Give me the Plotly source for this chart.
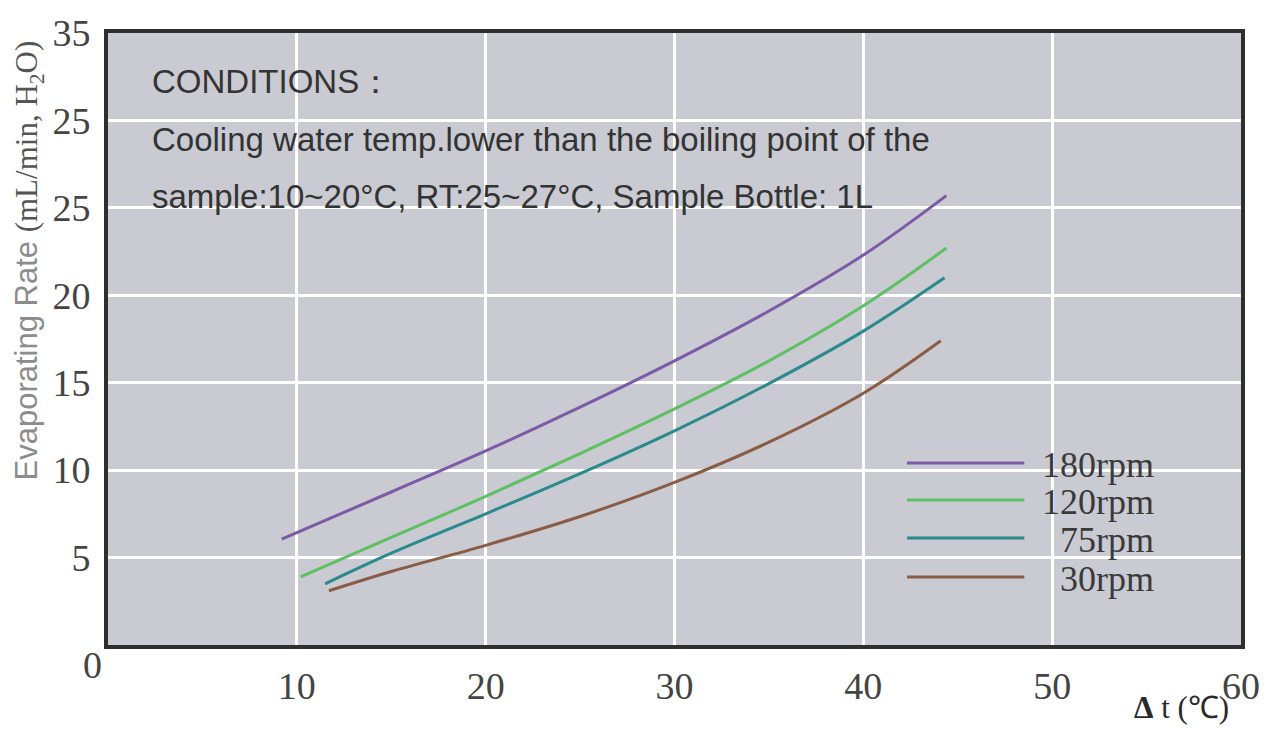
import plotly.graph_objects as go

# ---- data ----
x_180 = [9.2, 15, 20, 25, 30, 35, 40, 44.4]
y_180 = [6.05, 8.75, 11.1, 13.6, 16.25, 19.1, 22.3, 25.7]
x_120 = [10.2, 15, 20, 25, 30, 35, 40, 44.4]
y_120 = [3.9, 6.15, 8.5, 10.95, 13.5, 16.25, 19.4, 22.7]
x_75 = [11.5, 15, 20, 25, 30, 35, 40, 44.3]
y_75 = [3.5, 5.25, 7.5, 9.8, 12.25, 14.95, 17.95, 21.0]
x_30 = [11.7, 15, 20, 25, 30, 35, 40, 44.1]
y_30 = [3.1, 4.2, 5.7, 7.35, 9.3, 11.6, 14.4, 17.4]

series_names = ["180rpm", "120rpm", "75rpm", "30rpm"]
series_colors = ["#7b5aa6", "#5fbf63", "#2b8a8c", "#8a5c44"]

x_tickvals = [10, 20, 30, 40, 50, 60]
x_ticktext = ["10", "20", "30", "40", "50", "60"]
y_tickvals = [5, 10, 15, 20, 25, 30, 35]
y_ticktext = ["5", "10", "15", "20", "25", "25", "35"]

conditions = [
    "CONDITIONS\uff1a",
    "Cooling water temp.lower than the boiling point of the",
    "sample:10~20°C, RT:25~27°C, Sample Bottle: 1L",
]

SERIF = "Liberation Serif, Times New Roman, serif"
SANS = "Liberation Sans, Arial, sans-serif"

fig = go.Figure()
for xs, ys, name, col in zip([x_180, x_120, x_75, x_30],
                             [y_180, y_120, y_75, y_30],
                             series_names, series_colors):
    fig.add_trace(go.Scatter(x=xs, y=ys, mode="lines", name=name,
                             line=dict(color=col, width=3, shape="spline", smoothing=1.0),
                             showlegend=False, hoverinfo="skip"))

W, H = 1272, 729
ml, mr, mt, mb = 108, 24, 33, 84
pw, ph = W - ml - mr, H - mt - mb

def px(xp):
    return (xp - ml) / pw

def py(yp):
    return (H - mb - yp) / ph

annotations = []
# conditions text
for txt, yc in zip(conditions, [81, 139, 196]):
    annotations.append(dict(x=px(150), y=py(yc), xref="paper", yref="paper",
                            text=txt, showarrow=False, xanchor="left", yanchor="middle",
                            font=dict(family=SANS, size=33, color="#333333")))

# legend (manual, long line samples)
shapes = []
leg_y = [463, 500, 538, 577]
for name, col, yl in zip(series_names, series_colors, leg_y):
    shapes.append(dict(type="line", xref="paper", yref="paper",
                       x0=px(912), x1=px(1030), y0=py(yl), y1=py(yl),
                       line=dict(color=col, width=3)))
    annotations.append(dict(x=px(1162), y=py(yl + 2), xref="paper", yref="paper",
                            text=name, showarrow=False, xanchor="right", yanchor="middle",
                            font=dict(family=SERIF, size=36, color="#3a3a3a")))

# origin label
annotations.append(dict(x=px(92), y=py(665), xref="paper", yref="paper", text="0",
                        showarrow=False, xanchor="center", yanchor="middle",
                        font=dict(family=SERIF, size=38, color="#444444")))
# x axis title
annotations.append(dict(x=px(1188), y=py(707), xref="paper", yref="paper",
                        text="<b>\u0394</b> t (\u2103)", showarrow=False,
                        xanchor="center", yanchor="middle",
                        font=dict(family=SERIF, size=31, color="#2a2a2a")))
# y axis title
annotations.append(dict(x=px(29), y=py(260), xref="paper", yref="paper",
                        text=("<span style=\"font-family:Liberation Sans, Arial, sans-serif;color:#8c8c8c\">Evaporating Rate </span>"
                              "<span style=\"font-family:Liberation Serif, Times New Roman, serif;color:#555555\">(mL/min, H<sub>2</sub>O)</span>"),
                        showarrow=False, textangle=-90, xanchor="center", yanchor="middle",
                        font=dict(family=SERIF, size=31, color="#555555")))

fig.update_layout(
    width=W, height=H,
    margin=dict(l=ml, r=mr, t=mt, b=mb),
    paper_bgcolor="white",
    plot_bgcolor="#c9cad2",
    shapes=shapes,
    annotations=annotations,
    showlegend=False,
)
fig.update_xaxes(range=[0, 60], tickvals=x_tickvals, ticktext=x_ticktext,
                 showgrid=True, gridcolor="white", gridwidth=3,
                 showline=True, linecolor="#2e2e2e", linewidth=4, mirror=True,
                 zeroline=False, ticks="", ticklabelstandoff=4,
                 tickfont=dict(family=SERIF, size=38, color="#444444"))
fig.update_yaxes(range=[0, 35], tickvals=y_tickvals, ticktext=y_ticktext,
                 showgrid=True, gridcolor="white", gridwidth=3,
                 showline=True, linecolor="#2e2e2e", linewidth=4, mirror=True,
                 zeroline=False, ticks="", ticklabelstandoff=6,
                 tickfont=dict(family=SERIF, size=38, color="#444444"))

fig.write_html("out.html", config={"displayModeBar": False},
               post_script="document.body.style.margin='0px';")
